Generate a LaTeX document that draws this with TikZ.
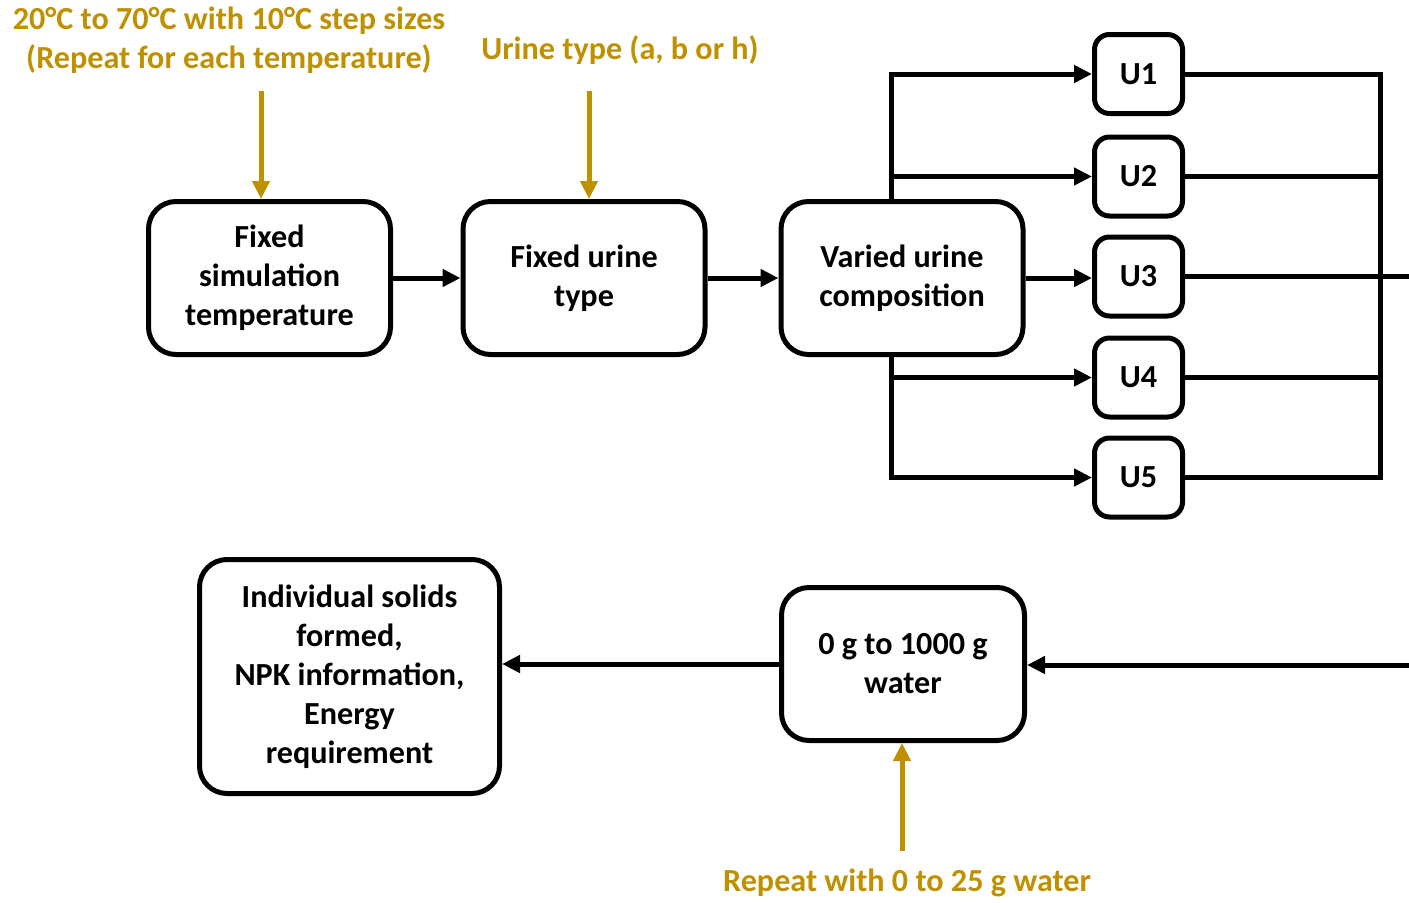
\documentclass[tikz,border=0pt]{standalone}
\usepackage{fontspec}
\setmainfont{Carlito}
\usetikzlibrary{positioning,arrows.meta}
\definecolor{gld}{HTML}{BF9000}

\begin{document}
\begin{tikzpicture}[font=\fontsize{18.3}{22.2}\selectfont\bfseries, line width=0.1cm,
  stage/.style={draw, rounded corners=0.55cm, align=center, inner sep=0pt, minimum width=4.84cm, minimum height=3.06cm},
  comp/.style={draw, rounded corners=0.3cm, inner sep=0pt, minimum width=1.76cm, minimum height=1.58cm},
  note/.style={text=gld, align=center, inner sep=0pt},
  flow/.style={-{Triangle[length=0.36cm,width=0.34cm]}},
  feed/.style={draw=gld, -{Triangle[length=0.36cm,width=0.34cm]}}]
\useasboundingbox (0,0) rectangle (28.18,-18.04);
% first row
\node[stage] (temp) at (5.39,-5.56) {Fixed\\simulation\\temperature};
\node[stage] (type) at (11.68,-5.56) {Fixed urine\\type};
\node[stage] (vary) at (18.04,-5.56) {Varied urine\\composition};
\draw[flow] (temp) -- (type);
\draw[flow] (type) -- (vary);
% compositions
\foreach \i/\y in {1/-1.48, 2/-3.53, 3/-5.53, 4/-7.55, 5/-9.55} \node[comp] (u\i) at (22.77,\y) {U\i};
\coordinate (sx) at (17.82,0);
\coordinate (bx) at (27.6,0);
\draw[flow] (vary.north -| sx) |- (u1.west);
\draw[flow] (vary.north -| sx) |- (u2.west);
\draw[flow] (vary.east) -- (vary.east -| u3.west);
\draw[flow] (vary.south -| sx) |- (u4.west);
\draw[flow] (vary.south -| sx) |- (u5.west);
\draw (u1.east) -| (u5.east -| bx) -- (u5.east);
\draw (u2.east) -- (u2.east -| bx);
\draw (u4.east) -- (u4.east -| bx);
\coordinate (out) at (28.18,-5.53);
\draw (u3.east) -- (out);
% second row
\node[stage, minimum width=4.86cm] (water) at (18.06,-13.28) {0 g to 1000 g\\water};
\node[stage, minimum width=6.0cm, minimum height=4.68cm] (solid) at (6.99,-13.53) {Individual solids\\formed,\\NPK information,\\Energy\\requirement};
\coordinate (back) at (28.18,-13.3);
\draw[flow] (back) -- (back -| water.east);
\draw[flow] (water.west) -- (water.west -| solid.east);
% inputs
\node[note] (tnote) at (4.58,-0.81) {20°C to 70°C with 10°C step sizes\\(Repeat for each temperature)};
\node[note] (unote) at (12.4,-1.0) {Urine type (a, b or h)};
\node[note] (wnote) at (18.14,-17.66) {Repeat with 0 to 25 g water};
\coordinate (tin) at (5.22,-1.82);
\coordinate (uin) at (11.78,-1.82);
\coordinate (win) at (18.04,-17.02);
\draw[feed] (tin) -- (tin |- temp.north);
\draw[feed] (uin) -- (uin |- type.north);
\draw[feed] (win) -- (win |- water.south);
\end{tikzpicture}
\end{document}
